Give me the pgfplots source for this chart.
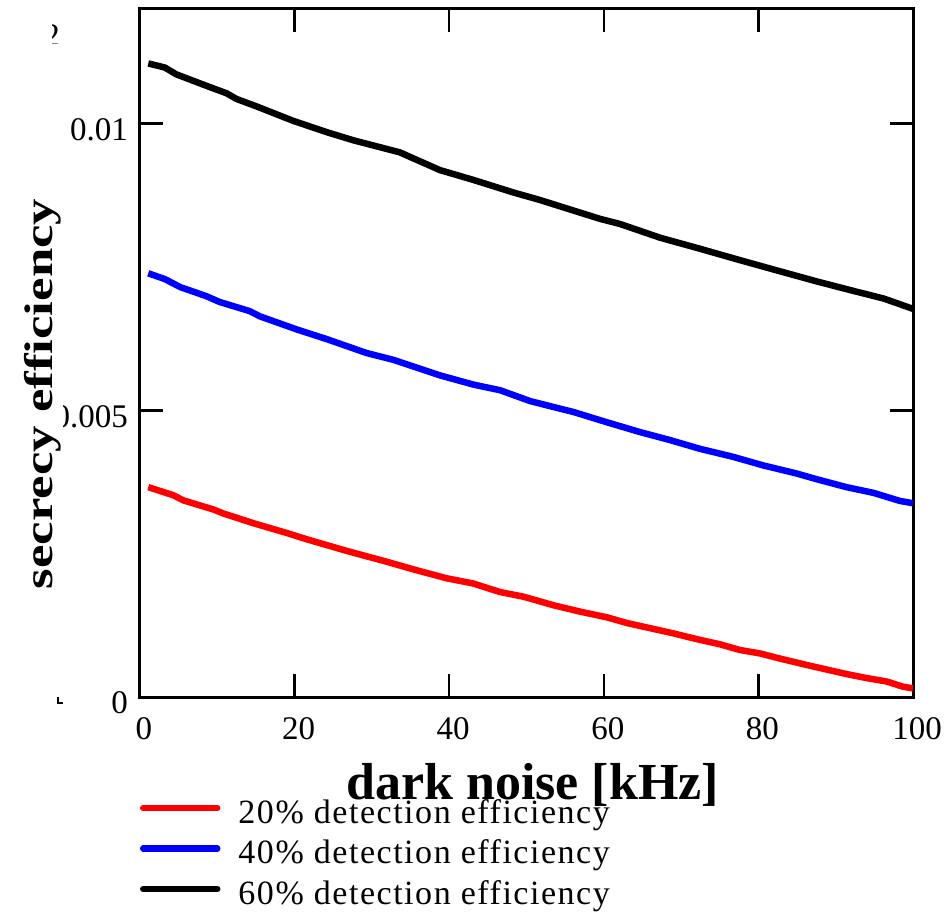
\documentclass[border=0pt]{standalone}
\usepackage{fontspec}
\setmainfont{Liberation Serif}
\usepackage{graphicx}
\usepackage{pgfplots}
\pgfplotsset{compat=1.18}
\begin{document}
\begin{tikzpicture}
\useasboundingbox (-140bp,-216bp) rectangle (807bp,697bp);
\begin{axis}[
  at={(0,0)}, anchor=south west,
  scale only axis, width=773bp, height=688bp,
  xmin=0, xmax=100, ymin=0, ymax=0.012,
  xtick={0,20,40,60,80,100},
  xticklabels={0,20,40,60,80,100},
  ytick={0,0.005,0.01},
  yticklabels={0,0.005,0.01},
  scaled y ticks=false,
  tick align=inside, tick pos=both,
  major tick length=23bp,
  every tick/.style={black, line width=2.5bp},
  axis line style={line width=3bp},
  /pgf/number format/assume math mode=true,
  ticklabel style={font=\fontsize{33bp}{40bp}\selectfont, inner sep=0pt, outer sep=0pt},
  xticklabel style={yshift=-21bp, xshift=4bp},
  yticklabel style={xshift=-12bp, yshift=-6bp},
  xlabel={dark noise [kHz]},
  xlabel style={font=\bfseries\fontsize{52bp}{60bp}\selectfont, at={(axis description cs:0.508,-0.1497)}, anchor=base, inner sep=0pt},
  ylabel={\scalebox{1.32}[1]{\bfseries\fontsize{40bp}{48bp}\selectfont secrecy efficiency}},
  ylabel style={at={(axis description cs:-0.1255,0.4404)}, anchor=center, fill=white, inner sep=2bp},
  legend style={at={(axis description cs:0.0,-0.146)}, anchor=north west, draw=none, fill=none, inner sep=0pt, outer sep=0pt,
    font=\fontsize{34bp}{40bp}\selectfont\addfontfeatures{LetterSpace=4.5}, row sep=11bp,
    /tikz/every odd column/.append style={column sep=16bp}},
  legend cell align=left,
  legend image code/.code={\draw[#1, line cap=round] (0bp,4bp) -- (74bp,4bp);},
]
\addplot[red, line width=6.5bp] coordinates {
(1.07,0.00366) (4.3,0.00352) (5.6,0.00343) (9.5,0.00327) (10.8,0.00320) (14.7,0.00303)
(19.0,0.00286) (21.6,0.00275) (26.7,0.00255) (31.9,0.00236) (35.8,0.00221) (39.7,0.00207)
(43.1,0.00198) (46.6,0.00183) (49.6,0.00175) (53.5,0.00160) (56.9,0.00149) (60.4,0.00139)
(63.0,0.00129) (66.0,0.00120) (69.0,0.00111) (72.0,0.00101) (75.0,0.00092) (77.6,0.00082)
(80.2,0.00076) (82.8,0.00067) (86.2,0.00056) (88.8,0.00048) (91.4,0.00040) (94.0,0.00033)
(96.6,0.00027) (98.7,0.00018) (100,0.00015)};
\addlegendentry{20\% detection efficiency}
\addplot[blue, line width=6.5bp] coordinates {
(1.07,0.00739) (3.2,0.00729) (5.2,0.00715) (8.6,0.00699) (10.3,0.00689) (14.2,0.00673)
(15.5,0.00664) (20.3,0.00641) (24.2,0.00624) (29.3,0.00600) (32.8,0.00588) (38.8,0.00561)
(43.1,0.00545) (46.6,0.00535) (50.5,0.00516) (56.1,0.00497) (60.2,0.00480) (64.7,0.00462)
(68.6,0.00448) (72.4,0.00433) (76.7,0.00419) (80.6,0.00404) (84.9,0.00390) (87.5,0.00380)
(91.4,0.00366) (94.9,0.00356) (98.3,0.00342) (100,0.00338)};
\addlegendentry{40\% detection efficiency}
\addplot[black, line width=6.5bp] coordinates {
(1.07,0.01105) (3.2,0.01098) (4.7,0.01086) (8.6,0.01066) (11.2,0.01053) (12.5,0.01043)
(15.1,0.01030) (19.8,0.01005) (24.2,0.00985) (27.6,0.00971) (33.6,0.00950) (38.8,0.00919)
(43.1,0.00902) (48.3,0.00880) (51.7,0.00867) (59.5,0.00834) (62.1,0.00825) (67.3,0.00801)
(72.4,0.00782) (77.6,0.00762) (82.4,0.00744) (87.5,0.00725) (91.8,0.00710) (96.2,0.00695)
(100,0.00677)};
\addlegendentry{60\% detection efficiency}
\end{axis}
\begin{scope}
\clip (-87bp,653bp) rectangle (-78bp,673bp);
\node[anchor=base east, inner sep=0pt, font=\fontsize{33bp}{40bp}\selectfont] at (-80bp,650bp) {2};
\end{scope}
\draw[line width=2bp] (-82bp,0bp) -- (-82bp,-6bp) -- (-77bp,-6bp);
\end{tikzpicture}
\end{document}
